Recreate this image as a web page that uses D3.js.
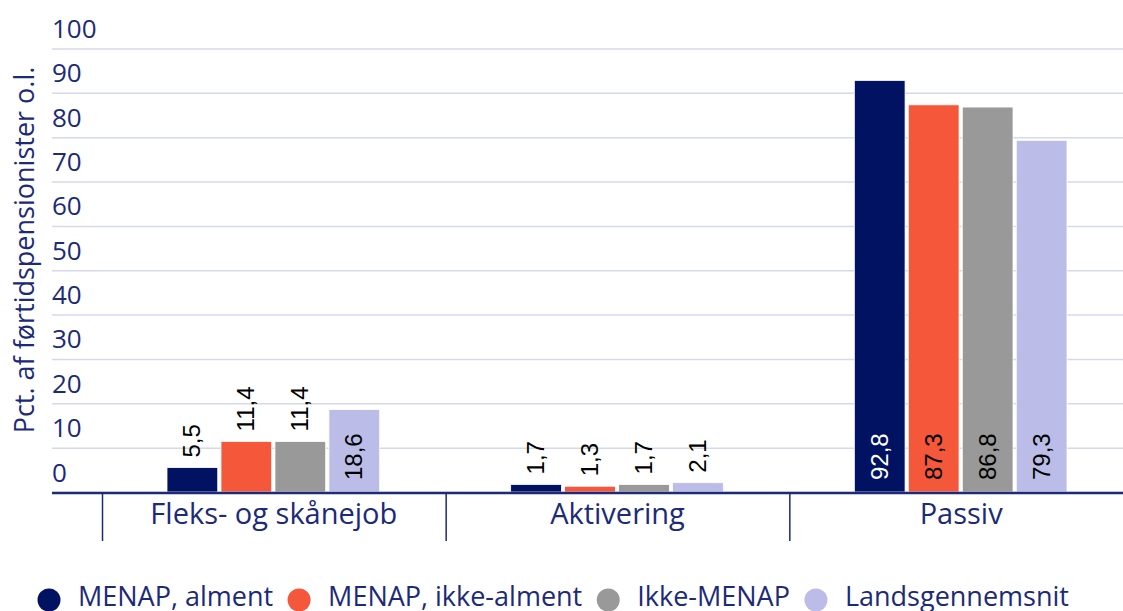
<!DOCTYPE html>
<html>
<head>
<meta charset="utf-8">
<script src="https://cdn.jsdelivr.net/npm/d3@7"></script>
<style>
  body { margin: 0; background: #fff; }
  svg { display: block; }
  .txt { font-family: "Open Sans", "Noto Sans", sans-serif; fill: #1c2a78; }
  .val { font-family: "Liberation Sans", Arial, sans-serif; font-size: 24px; }
</style>
</head>
<body>
<div id="graph"></div>
<script>
//Data
const categories = ['Fleks- og skånejob', 'Aktivering', 'Passiv'];
const seriesNames = ['MENAP, alment', 'MENAP, ikke-alment', 'Ikke-MENAP', 'Landsgennemsnit'];
const almentValues = [5.5, 1.7, 92.8];
const ikkeAlmentValues = [11.4, 1.3, 87.3];
const ikkeMenapValues = [11.4, 1.7, 86.8];
const landsValues = [18.6, 2.1, 79.3];
const yTickValues = [0, 10, 20, 30, 40, 50, 60, 70, 80, 90, 100];
const yTitle = 'Pct. af førtidspensionister o.l.';

const colors = ['#001261', '#f5573b', '#999999', '#bbbde8'];
const labelColors = ['#ffffff', '#000000', '#000000', '#000000'];

const allValues = [almentValues, ikkeAlmentValues, ikkeMenapValues, landsValues];

//General config
const W = 1123, H = 611;
const axisLeftX = 52;
const y0 = 492;

const svg = d3.select('#graph').append('svg')
    .attr('width', W)
    .attr('height', H);

//Scales
const x0 = d3.scaleBand().domain(categories).range([102, 1133]);
const x1 = d3.scaleBand().domain(seriesNames)
    .range([65, x0.bandwidth() - 66])
    .paddingInner(0.06);
const y = d3.scaleLinear().domain([0, 100]).range([y0, 48.5]);

//Grid + y tick labels
const grid = svg.append('g')
    .attr('transform', `translate(${axisLeftX},0)`)
    .call(d3.axisRight(y).tickValues(yTickValues).tickSize(W - axisLeftX));
grid.select('.domain').remove();
grid.selectAll('.tick line')
    .attr('stroke', '#d6d9ec')
    .attr('stroke-width', 1.5);
grid.selectAll('.tick text')
    .attr('class', 'txt')
    .attr('x', 0)
    .attr('dy', -11)
    .attr('text-anchor', 'start')
    .style('font-size', '26px');

//Y title
svg.append('text')
    .attr('class', 'txt')
    .attr('transform', `translate(34, 250) rotate(-90)`)
    .attr('text-anchor', 'middle')
    .style('font-size', '27px')
    .text(yTitle);

//Bars
const rows = categories.map((c, i) => ({
    category: c,
    values: seriesNames.map((s, j) => ({ series: s, idx: j, value: allValues[j][i] }))
}));

const groups = svg.selectAll('.cat')
    .data(rows)
    .enter()
    .append('g')
    .attr('class', 'cat')
    .attr('transform', d => `translate(${x0(d.category)},0)`);

groups.selectAll('rect')
    .data(d => d.values)
    .enter()
    .append('rect')
    .attr('x', d => x1(d.series))
    .attr('y', d => y(d.value))
    .attr('width', x1.bandwidth())
    .attr('height', d => y0 - y(d.value))
    .attr('fill', d => colors[d.idx])
    .attr('stroke', '#ffffff')
    .attr('stroke-width', 0.8);

//Value labels
const fmt = v => d3.format('.1f')(v).replace('.', ',');
groups.selectAll('.val')
    .data(d => d.values)
    .enter()
    .append('text')
    .attr('class', 'val')
    .attr('transform', d => {
        const h = y0 - y(d.value);
        const cx = x1(d.series) + x1.bandwidth() / 2 + 8;
        const inside = h > 70;
        const py = inside ? y0 - 12 : y(d.value) - 10;
        return `translate(${cx},${py}) rotate(-90)`;
    })
    .attr('text-anchor', 'start')
    .attr('fill', d => (y0 - y(d.value) > 70) ? labelColors[d.idx] : '#000')
    .text(d => fmt(d.value));

//X axis line
svg.append('line')
    .attr('x1', axisLeftX).attr('x2', W)
    .attr('y1', y0 + 1).attr('y2', y0 + 1)
    .attr('stroke', '#1c2a78')
    .attr('stroke-width', 2.5);

//Category dividers
svg.selectAll('.div')
    .data(categories)
    .enter()
    .append('line')
    .attr('x1', d => x0(d) + 0.5).attr('x2', d => x0(d) + 0.5)
    .attr('y1', y0 + 1).attr('y2', 541)
    .attr('stroke', '#1c2a78')
    .attr('stroke-width', 1.5);

//Category labels
svg.selectAll('.catlabel')
    .data(categories)
    .enter()
    .append('text')
    .attr('class', 'txt')
    .attr('x', d => x0(d) + x0.bandwidth() / 2)
    .attr('y', 524)
    .attr('text-anchor', 'middle')
    .style('font-size', '29px')
    .text(d => d);

//Legend
const legend = svg.append('g').attr('transform', 'translate(0,600)');
let lx = 49;
seriesNames.forEach((s, i) => {
    legend.append('circle')
        .attr('cx', lx).attr('cy', 0).attr('r', 11.5)
        .attr('fill', colors[i]);
    const t = legend.append('text')
        .attr('class', 'txt')
        .attr('x', lx + 29)
        .attr('y', 6)
        .style('font-size', '27px')
        .text(s);
    lx = lx + 29 + t.node().getComputedTextLength() + 26;
});
</script>
</body>
</html>
